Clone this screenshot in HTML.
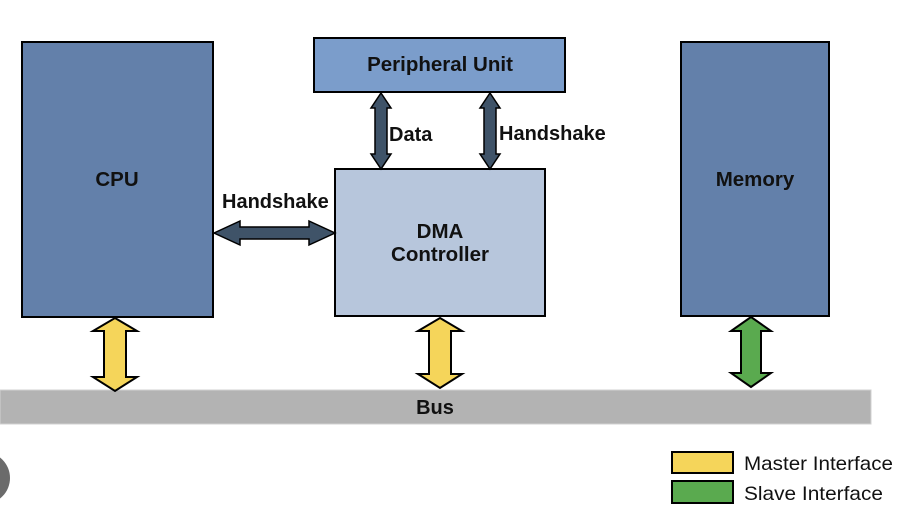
<!DOCTYPE html>
<html><head><style>
html,body{margin:0;padding:0;background:#fff;}
svg{display:block;}
text{font-family:"Liberation Sans",sans-serif;}
</style></head><body>
<svg width="914" height="522" viewBox="0 0 914 522" xmlns="http://www.w3.org/2000/svg">
<rect x="0" y="0" width="914" height="522" fill="#fff"/>
<rect x="0" y="390" width="871" height="34" fill="#b3b3b3" stroke="#d0d0d0" stroke-width="1"/>
<text x="435" y="414" font-size="20" font-weight="bold" text-anchor="middle" fill="#111">Bus</text>
<rect x="22" y="42" width="191" height="275" fill="#6380aa" stroke="#000" stroke-width="2"/>
<text x="117" y="186" font-size="20.5" font-weight="bold" text-anchor="middle" fill="#111">CPU</text>
<rect x="314" y="38" width="251" height="54" fill="#7b9dcb" stroke="#000" stroke-width="2"/>
<text x="440" y="71" font-size="20.5" font-weight="bold" text-anchor="middle" fill="#111">Peripheral Unit</text>
<rect x="335" y="169" width="210" height="147" fill="#b7c6dc" stroke="#000" stroke-width="2"/>
<text x="440" y="238" font-size="20.5" font-weight="bold" text-anchor="middle" fill="#111">DMA</text>
<text x="440" y="261" font-size="20.5" font-weight="bold" text-anchor="middle" fill="#111">Controller</text>
<rect x="681" y="42" width="148" height="274" fill="#6380aa" stroke="#000" stroke-width="2"/>
<text x="755" y="186" font-size="20.5" font-weight="bold" text-anchor="middle" fill="#111">Memory</text>
<polygon points="115,318 137,331 126,331 126,377 137,377 115,391 93,377 104,377 104,331 93,331" fill="#f5d55a" stroke="#000" stroke-width="2"/>
<polygon points="440,318 462,331 451,331 451,374 462,374 440,388 418,374 429,374 429,331 418,331" fill="#f5d55a" stroke="#000" stroke-width="2"/>
<polygon points="751,317 771,331 761,331 761,373 771,373 751,387 731,373 741,373 741,331 731,331" fill="#5aaa4f" stroke="#000" stroke-width="2"/>
<polygon points="381,93 391,108 387,108 387,154 391,154 381,169 371,154 375,154 375,108 371,108" fill="#3f5368" stroke="#000" stroke-width="1.5"/>
<polygon points="490,93 500,108 496,108 496,154 500,154 490,169 480,154 484,154 484,108 480,108" fill="#3f5368" stroke="#000" stroke-width="1.5"/>
<polygon points="214,233 240,221 240,227 309,227 309,221 335,233 309,245 309,239 240,239 240,245" fill="#3f5368" stroke="#000" stroke-width="1.5"/>
<text x="389" y="141" font-size="20" font-weight="bold" fill="#111">Data</text>
<text x="499" y="140" font-size="20" font-weight="bold" fill="#111">Handshake</text>
<text x="222" y="208" font-size="20" font-weight="bold" fill="#111">Handshake</text>
<rect x="672" y="452" width="61" height="21" fill="#f5d55a" stroke="#000" stroke-width="2"/>
<rect x="672" y="481" width="61" height="22" fill="#5aaa4f" stroke="#000" stroke-width="2"/>
<text x="744" y="470" font-size="19.5" fill="#111" textLength="149" lengthAdjust="spacingAndGlyphs">Master Interface</text>
<text x="744" y="500" font-size="19.5" fill="#111" textLength="139" lengthAdjust="spacingAndGlyphs">Slave Interface</text>
<circle cx="-16" cy="478" r="26" fill="#6b6b6b"/>
</svg>
</body></html>
